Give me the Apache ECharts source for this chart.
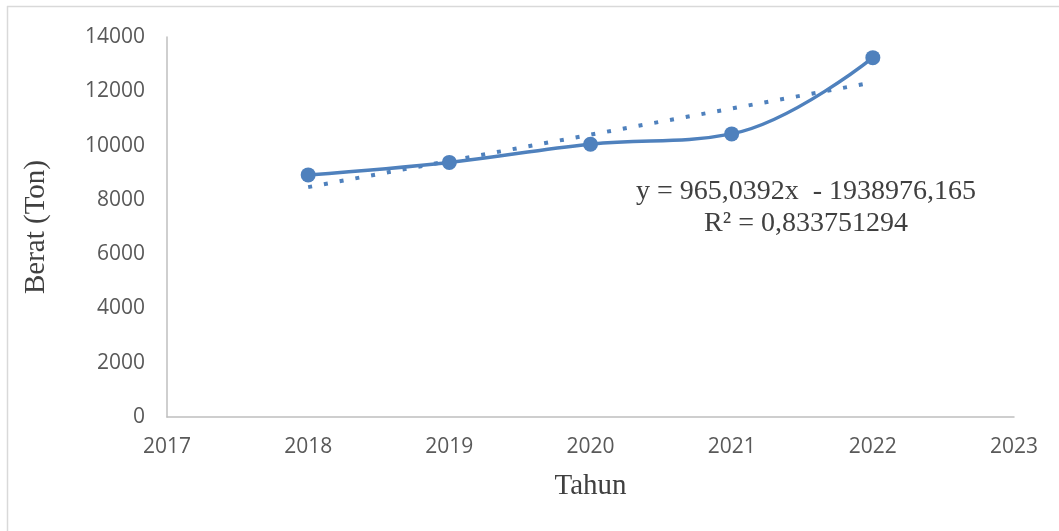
<!DOCTYPE html>
<html>
<head>
<meta charset="utf-8">
<script src="https://cdn.jsdelivr.net/npm/echarts@6/dist/echarts.min.js"></script>
<style>
  html, body { margin: 0; padding: 0; background: #fff; }
  #chart { width: 1059px; height: 531px; }
</style>
</head>
<body>
<div id="chart"></div>
<script>
// tahun dan berat (ton)
var years = [2018, 2019, 2020, 2021, 2022];
var weights = [8920, 9380, 10050, 10430, 13240];
// ujung garis tren linear
var trendYears = [2018, 2022];
var trendValues = [8470, 12330];
var equationText = 'y = 965,0392x  - 1938976,165';
var r2Text = 'R² = 0,833751294';

var blue = '#4f81bd';
var chart = echarts.init(document.getElementById('chart'));

chart.setOption({
  animation: false,
  grid: { left: 167, right: 45, top: 37, bottom: 114 },
  xAxis: {
    type: 'value',
    min: 2017,
    max: 2023,
    interval: 1,
    name: 'Tahun',
    nameLocation: 'middle',
    nameGap: 55,
    nameTextStyle: { fontFamily: 'Liberation Serif', fontSize: 29, color: '#404040' },
    axisLine: { lineStyle: { color: '#bfbfbf', width: 1.5 } },
    axisTick: { show: false },
    splitLine: { show: false },
    axisLabel: {
      fontFamily: 'Open Sans', fontSize: 21, color: '#595959', margin: 20,
      formatter: function (v) { return String(v); }
    }
  },
  yAxis: {
    type: 'value',
    min: 0,
    max: 14000,
    interval: 2000,
    name: 'Berat (Ton)',
    nameLocation: 'middle',
    nameGap: 116,
    nameTextStyle: { fontFamily: 'Liberation Serif', fontSize: 29, color: '#404040' },
    axisLine: { show: true, lineStyle: { color: '#bfbfbf', width: 1.5 } },
    axisTick: { show: false },
    splitLine: { show: false },
    axisLabel: {
      fontFamily: 'Open Sans', fontSize: 21, color: '#595959', margin: 22,
      formatter: function (v) { return String(v); }
    }
  },
  series: [
    {
      type: 'line',
      data: trendYears.map(function (x, i) { return [x, trendValues[i]]; }),
      showSymbol: false,
      lineStyle: { color: blue, width: 4, type: [4, 12], cap: 'butt' },
      z: 1
    },
    {
      type: 'line',
      data: years.map(function (x, i) { return [x, weights[i]]; }),
      smooth: 0.4,
      symbol: 'circle',
      symbolSize: 15,
      itemStyle: { color: blue },
      lineStyle: { color: blue, width: 3.5 },
      z: 2
    }
  ],
  graphic: [
    { type: 'line', shape: { x1: 7.5, y1: 6, x2: 7.5, y2: 531 }, style: { stroke: '#d9d9d9', lineWidth: 1.5 } },
    { type: 'line', shape: { x1: 7, y1: 6.5, x2: 1059, y2: 6.5 }, style: { stroke: '#d9d9d9', lineWidth: 1.5 } },
    {
      type: 'text', x: 806, y: 192,
      style: { text: equationText, fontFamily: 'Liberation Serif', fontSize: 28, fill: '#404040', align: 'center', verticalAlign: 'middle' }
    },
    {
      type: 'text', x: 806, y: 224,
      style: { text: r2Text, fontFamily: 'Liberation Serif', fontSize: 28, fill: '#404040', align: 'center', verticalAlign: 'middle' }
    }
  ]
});
</script>
</body>
</html>
